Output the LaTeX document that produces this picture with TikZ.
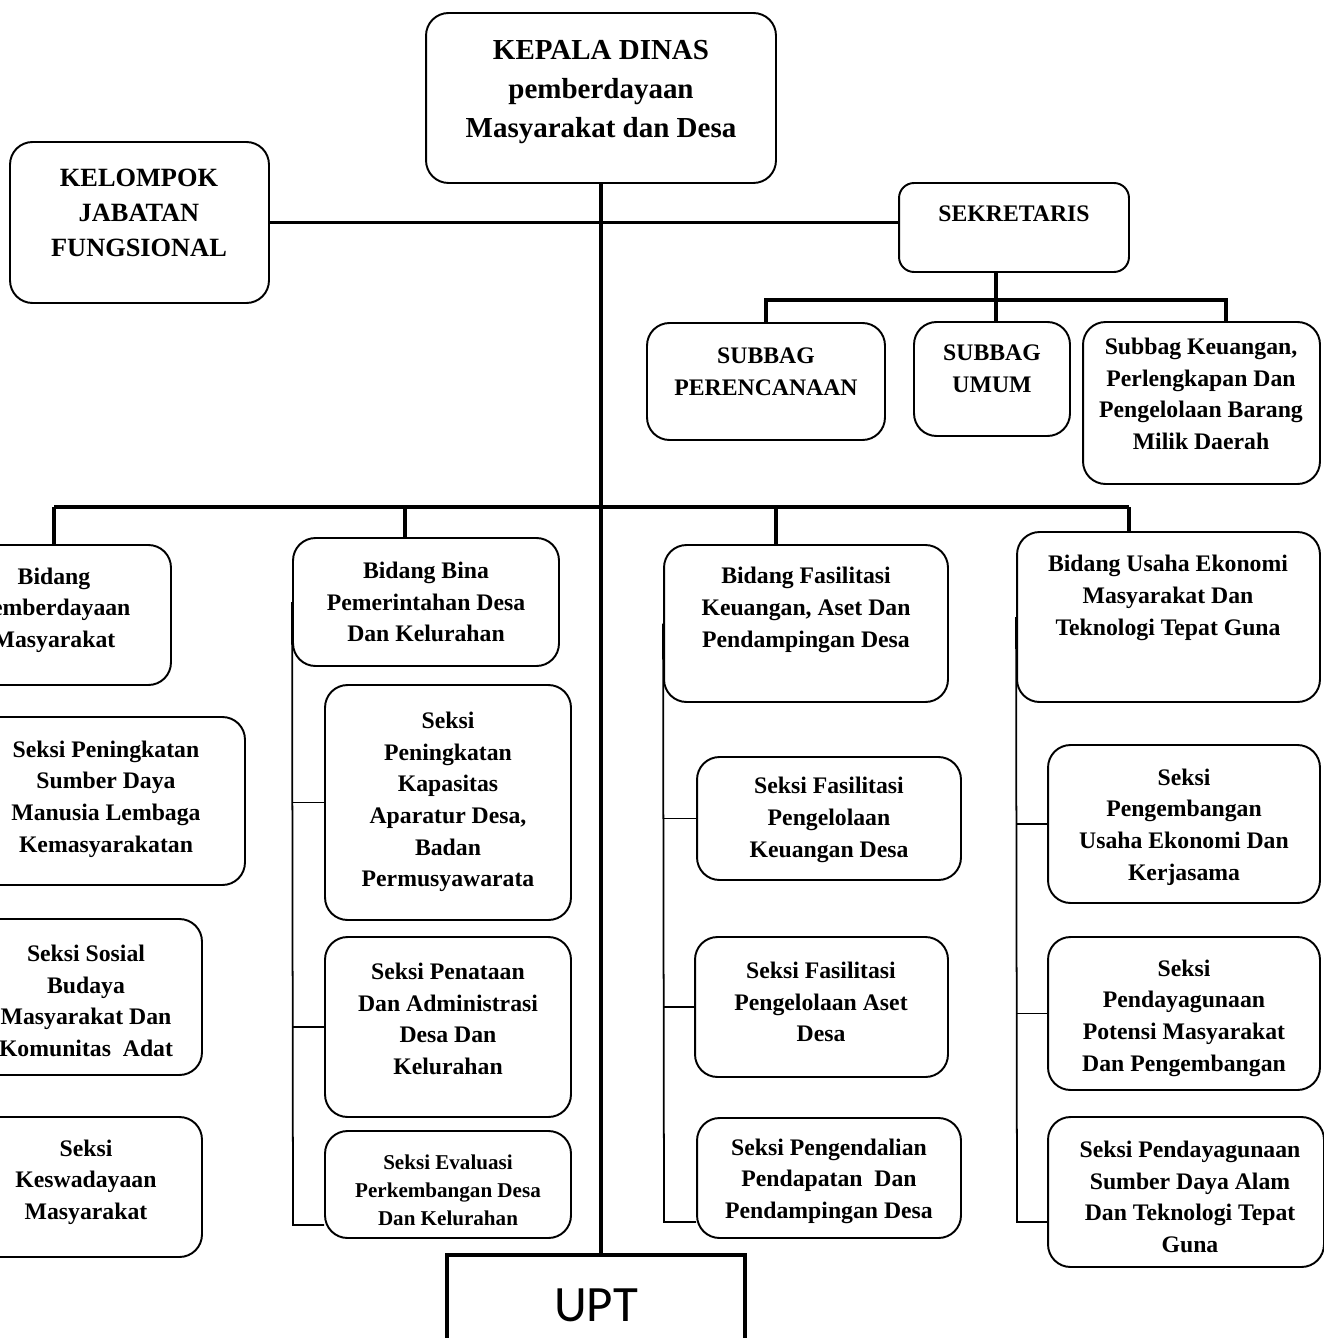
\documentclass[tikz,border=0pt]{standalone}
\usepackage{fontspec}
\setmainfont{Liberation Serif}
\newfontfamily\uptfont{Carlito}

\begin{document}
\begin{tikzpicture}[
    x=0.02cm, y=-0.02cm,
    box/.style={rectangle, draw, rounded corners=0.45cm, line width=1.1pt},
    txt/.style={align=center, inner sep=0pt, font=\bfseries\fontsize{13.5}{18}\selectfont},
    bus/.style={line width=2.2pt},
    branch/.style={line width=1pt}
]
\clip (0,0) rectangle (1324,1338);

% Top row
\node[box, minimum width=7cm, minimum height=3.4cm] (kadis) at (601,98) {};
\node[txt, font=\bfseries\fontsize{16.5}{22}\selectfont] (kadis-t) at (601,92) {KEPALA DINAS\\pemberdayaan\\Masyarakat dan Desa};
\node[box, minimum width=5.18cm, minimum height=3.22cm] (kjf) at (139.5,222.5) {};
\node[txt, font=\bfseries\fontsize{15}{20}\selectfont] (kjf-t) at (139,213) {KELOMPOK\\JABATAN\\FUNGSIONAL};
\node[box, rounded corners=0.3cm, minimum width=4.6cm, minimum height=1.78cm] (sekr) at (1014,227.5) {};
\node[txt] (sekr-t) at (1014,214) {SEKRETARIS};

% Subbag row
\node[box, minimum width=4.76cm, minimum height=2.34cm] (sp) at (766,381.5) {};
\node[txt] (sp-t) at (766,372) {SUBBAG\\PERENCANAAN};
\node[box, minimum width=3.12cm, minimum height=2.28cm] (su) at (992,379) {};
\node[txt] (su-t) at (992,369) {SUBBAG\\UMUM};
\node[box, minimum width=4.74cm, minimum height=3.24cm] (sk) at (1201.5,403) {};
\node[txt] (sk-t) at (1201,394) {Subbag Keuangan,\\Perlengkapan Dan\\Pengelolaan Barang\\Milik Daerah};

% Bidang row
\node[box, minimum width=4.68cm, minimum height=2.8cm] (b1) at (54,615) {};
\node[txt] (b1-t) at (54,610) {Bidang\\Pemberdayaan\\Masyarakat};
\node[box, minimum width=5.32cm, minimum height=2.56cm] (b2) at (426,602) {};
\node[txt] (b2-t) at (426,602) {Bidang Bina\\Pemerintahan Desa\\Dan Kelurahan};
\node[box, minimum width=5.68cm, minimum height=3.14cm] (b3) at (806,623.5) {};
\node[txt] (b3-t) at (806,610) {Bidang Fasilitasi\\Keuangan, Aset Dan\\Pendampingan Desa};
\node[box, minimum width=6.06cm, minimum height=3.4cm] (b4) at (1168.5,617) {};
\node[txt] (b4-t) at (1168,598) {Bidang Usaha Ekonomi\\Masyarakat Dan\\Teknologi Tepat Guna};

% Seksi, column 1
\node[box, minimum width=5.56cm, minimum height=3.36cm] (s11) at (106,801) {};
\node[txt] (s11-t) at (106,799) {Seksi Peningkatan\\Sumber Daya\\Manusia Lembaga\\Kemasyarakatan};
\node[box, minimum width=4.64cm, minimum height=3.12cm] (s12) at (86,997) {};
\node[txt] (s12-t) at (86,1001) {Seksi Sosial\\Budaya\\Masyarakat Dan\\Komunitas\ \ Adat};
\node[box, minimum width=4.64cm, minimum height=2.8cm] (s13) at (86,1187) {};
\node[txt] (s13-t) at (86,1182) {Seksi\\Keswadayaan\\Masyarakat};

% Seksi, column 2
\node[box, minimum width=4.92cm, minimum height=4.7cm] (s21) at (448,802.5) {};
\node[txt] (s21-t) at (448,802) {Seksi\\Peningkatan\\Kapasitas\\Aparatur Desa,\\Badan\\Permusyawarata};
\node[box, minimum width=4.92cm, minimum height=3.6cm] (s22) at (448,1027) {};
\node[txt] (s22-t) at (448,1019) {Seksi Penataan\\Dan Administrasi\\Desa Dan\\Kelurahan};
\node[box, minimum width=4.92cm, minimum height=2.14cm] (s23) at (448,1184.5) {};
\node[txt, font=\bfseries\fontsize{12}{16}\selectfont] (s23-t) at (448,1190) {Seksi Evaluasi\\Perkembangan Desa\\Dan Kelurahan};

% Seksi, column 3
\node[box, minimum width=5.28cm, minimum height=2.46cm] (s31) at (829,818.5) {};
\node[txt] (s31-t) at (829,820) {Seksi Fasilitasi\\Pengelolaan\\Keuangan Desa};
\node[box, minimum width=5.06cm, minimum height=2.8cm] (s32) at (821.5,1007) {};
\node[txt] (s32-t) at (821,1002) {Seksi Fasilitasi\\Pengelolaan Aset\\Desa};
\node[box, minimum width=5.28cm, minimum height=2.4cm] (s33) at (829,1178) {};
\node[txt] (s33-t) at (829,1181) {Seksi Pengendalian\\Pendapatan\ \ Dan\\Pendampingan Desa};

% Seksi, column 4
\node[box, minimum width=5.44cm, minimum height=3.16cm] (s41) at (1184,824) {};
\node[txt] (s41-t) at (1184,827) {Seksi\\Pengembangan\\Usaha Ekonomi Dan\\Kerjasama};
\node[box, minimum width=5.44cm, minimum height=3.06cm] (s42) at (1184,1013.5) {};
\node[txt] (s42-t) at (1184,1018) {Seksi\\Pendayagunaan\\Potensi Masyarakat\\Dan Pengembangan};
\node[box, minimum width=5.52cm, minimum height=3cm] (s43) at (1186,1192) {};
\node[txt] (s43-t) at (1190,1197) {Seksi Pendayagunaan\\Sumber Daya Alam\\Dan Teknologi Tepat\\Guna};

% UPT
\node[rectangle, draw, line width=2.4pt, minimum width=5.96cm, minimum height=2.88cm] (upt) at (596,1327) {};
\node[inner sep=0pt, font=\uptfont\fontsize{29}{34}\selectfont] (upt-t) at (596,1305) {UPT};

% Main lines
\draw[bus] (kadis.south) -- (kadis.south |- upt.north);
\draw[bus] (kjf.east) -- (kjf.east -| sekr.west);

% Sekretaris -> Subbag
\coordinate (sb-l) at (766,300);
\coordinate (sb-m) at (996,300);
\coordinate (sb-r) at (1226,300);
\draw[bus] (sb-m |- sekr.south) -- (sb-m |- su.north);
\draw[bus] (sb-l |- sp.north) -- (sb-l) -- (sb-r) -- (sb-r |- sk.north);

% Kepala Dinas -> Bidang
\coordinate (bb1) at (54,507);
\coordinate (bb2) at (405,507);
\coordinate (bb3) at (776,507);
\coordinate (bb4) at (1129,507);
\draw[bus] (bb1) -- (bb4);
\draw[bus] (bb1) -- (bb1 |- b1.north);
\draw[bus] (bb2) -- (bb2 |- b2.north);
\draw[bus] (bb3) -- (bb3 |- b3.north);
\draw[bus] (bb4) -- (bb4 |- b4.north);

% Bidang -> Seksi
\coordinate (c2) at (293,1225);
\draw[branch] (b2.west) -- (c2) -- (c2 -| s23.west);
\draw[branch] (s21.west) -- (s21.west -| c2);
\draw[branch] (s22.west) -- (s22.west -| c2);

\coordinate (c3) at (664,1222);
\draw[branch] (b3.west) -- (c3) -- (c3 -| s33.west);
\draw[branch] (s31.west) -- (s31.west -| c3);
\draw[branch] (s32.west) -- (s32.west -| c3);

\coordinate (c4) at (1017,1222);
\draw[branch] (b4.west) -- (c4) -- (c4 -| s43.west);
\draw[branch] (s41.west) -- (s41.west -| c4);
\draw[branch] (s42.west) -- (s42.west -| c4);
\end{tikzpicture}
\end{document}
